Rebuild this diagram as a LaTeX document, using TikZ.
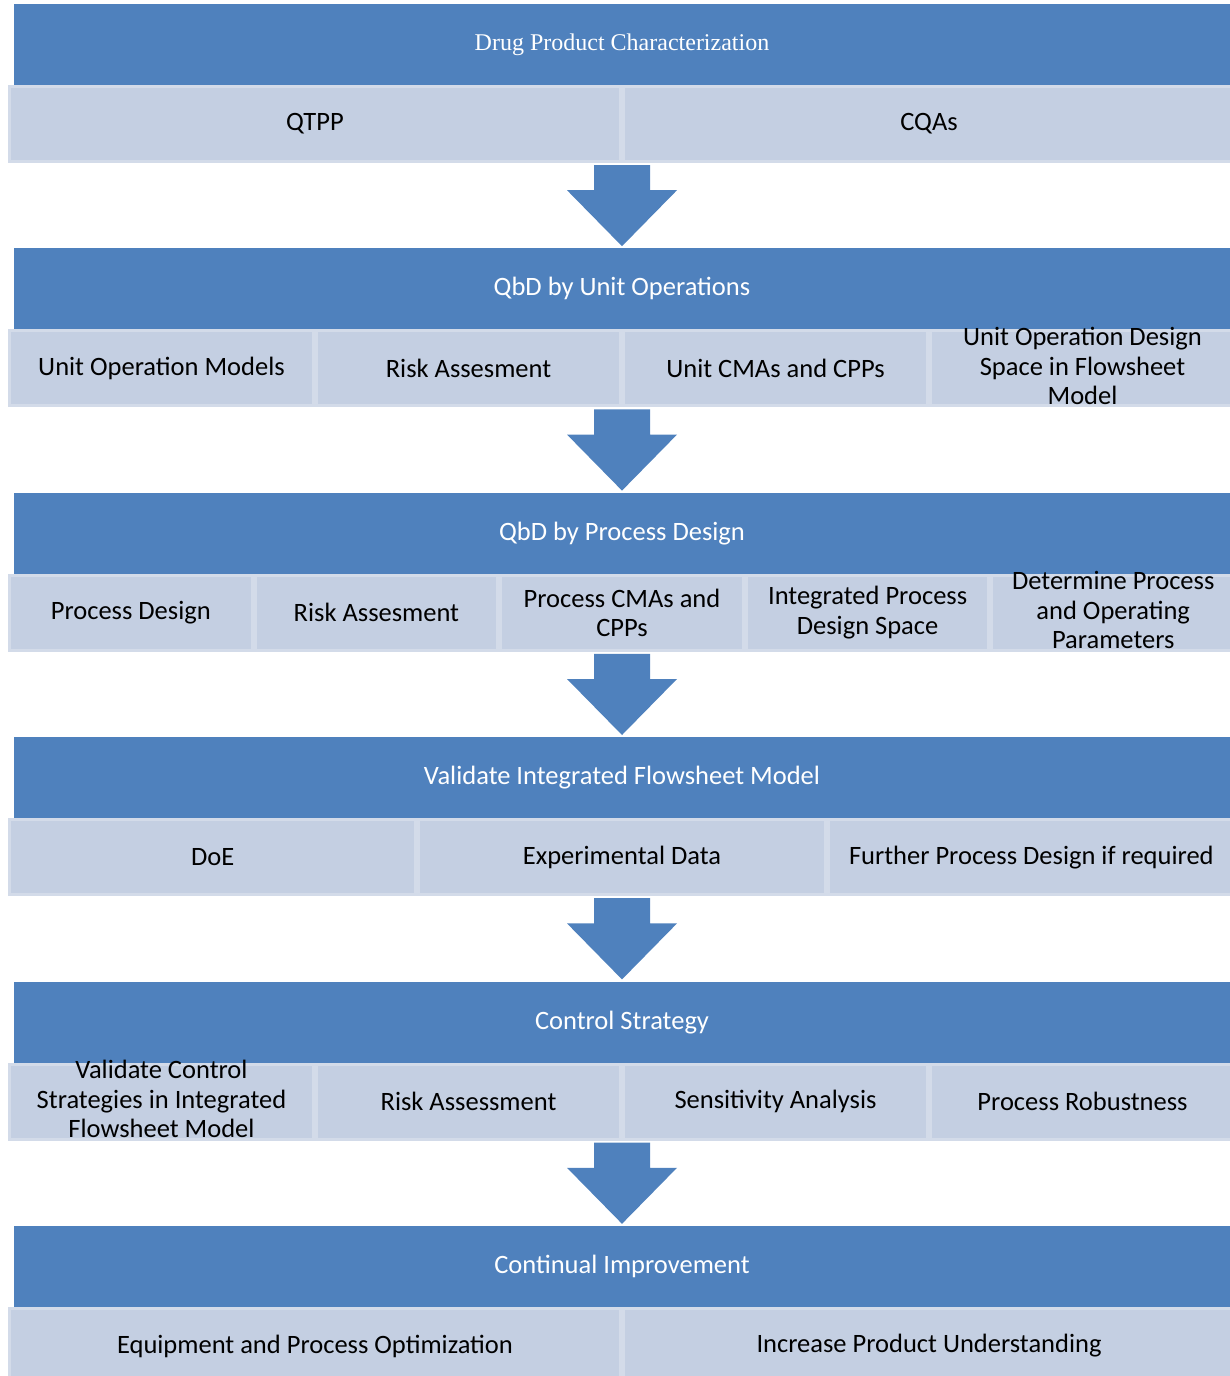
\documentclass[tikz,border=0pt]{standalone}
\usepackage{fontspec}
\setmainfont{Carlito}
\newfontfamily\timesfont{Liberation Serif}
\usetikzlibrary{calc}

\definecolor{hdblue}{HTML}{4F81BD}
\definecolor{subfill}{HTML}{C4CFE2}
\definecolor{subedge}{HTML}{D3DBE9}

% block arrow from the bottom of one row to the next header
\newcommand{\flowarrow}[2]{%
 \fill[hdblue] ($(#1)+(-28,2)$) -- ($(#1)+(28,2)$) -- ($(#2)+(28,-58)$) -- ($(#2)+(55,-58)$)
  -- ($(#2)+(0,-2)$) -- ($(#2)+(-55,-58)$) -- ($(#2)+(-28,-58)$) -- cycle;}
% three lines that may stick out of their box
\newcommand{\tallcell}[1]{\smash{\raisebox{-7pt}{\begin{tabular}{@{}c@{}}#1\end{tabular}}}}

\begin{document}
\begin{tikzpicture}[x=1pt,y=-1pt,
 hdr/.style={fill=hdblue, minimum width=1216pt, minimum height=81pt, inner sep=0pt,
  text=white, font=\fontsize{26.5}{29.5}\selectfont},
 subbox/.style={fill=subfill, draw=subedge, line width=3pt, minimum height=75pt,
  minimum width=#1, inner sep=0pt, align=center, font=\fontsize{26.5}{29.5}\selectfont}]
%\draw[help lines] (0,0) grid[step=100] (1230,1376);
\useasboundingbox (0,0) rectangle (1230,1376);
\clip (0,0) rectangle (1230,1376);

\begin{scope}
 \node[hdr, font=\timesfont\fontsize{24}{28}\selectfont] (hdChar) at (622,44.5) {Drug Product Characterization};
 \node[subbox=611pt] (qtpp) at (315,124) {QTPP};
 \node[subbox=611pt] (cqas) at (929,124) {CQAs};
\end{scope}

\begin{scope}[yshift=-244.4pt]
 \node[hdr] (hdUnit) at (622,44.5) {QbD by Unit Operations};
 \node[subbox=304pt] (uoModel) at (161.5,124) {Unit Operation Models};
 \node[subbox=304pt] (uoRisk) at (468.5,124) {Risk Assesment};
 \node[subbox=304pt] (uoCma) at (775.5,124) {Unit CMAs and CPPs};
 \node[subbox=304pt] (uoSpace) at (1082.5,124) {\tallcell{Unit Operation Design\\Space in Flowsheet\\Model}};
\end{scope}

\begin{scope}[yshift=-488.8pt]
 \node[hdr] (hdProc) at (622,44.5) {QbD by Process Design};
 \node[subbox=242.6pt] (pdDesign) at (130.8,124) {Process Design};
 \node[subbox=242.6pt] (pdRisk) at (376.4,124) {Risk Assesment};
 \node[subbox=242.6pt] (pdCma) at (622,124) {Process CMAs and\\CPPs};
 \node[subbox=242.6pt] (pdSpace) at (867.6,124) {Integrated Process\\Design Space};
 \node[subbox=242.6pt] (pdParam) at (1113.2,124) {\tallcell{Determine Process\\and Operating\\Parameters}};
\end{scope}

\begin{scope}[yshift=-733.2pt]
 \node[hdr] (hdValid) at (622,44.5) {Validate Integrated Flowsheet Model};
 \node[subbox=406.3pt] (vdDoe) at (212.7,124) {DoE};
 \node[subbox=406.3pt] (vdData) at (622,124) {Experimental Data};
 \node[subbox=406.3pt] (vdFurther) at (1031.3,124) {Further Process Design if required};
\end{scope}

\begin{scope}[yshift=-977.6pt]
 \node[hdr] (hdCtrl) at (622,44.5) {Control Strategy};
 \node[subbox=304pt] (csValid) at (161.5,124) {\tallcell{Validate Control\\Strategies in Integrated\\Flowsheet Model}};
 \node[subbox=304pt] (csRisk) at (468.5,124) {Risk Assessment};
 \node[subbox=304pt] (csSens) at (775.5,124) {Sensitivity Analysis};
 \node[subbox=304pt] (csRobust) at (1082.5,124) {Process Robustness};
\end{scope}

\begin{scope}[yshift=-1222pt]
 \node[hdr] (hdImpr) at (622,44.5) {Continual Improvement};
 \node[subbox=611pt] (ciOptim) at (315,124) {Equipment and Process Optimization};
 \node[subbox=611pt] (ciUnder) at (929,124) {Increase Product Understanding};
\end{scope}

% arrows between the rows
\coordinate (arA) at (hdUnit.north |- qtpp.south);
\coordinate (arB) at (hdProc.north |- uoRisk.south);
\coordinate (arC) at (hdValid.north |- pdCma.south);
\coordinate (arD) at (hdCtrl.north |- vdData.south);
\coordinate (arE) at (hdImpr.north |- csRisk.south);
\flowarrow{arA}{hdUnit.north}
\flowarrow{arB}{hdProc.north}
\flowarrow{arC}{hdValid.north}
\flowarrow{arD}{hdCtrl.north}
\flowarrow{arE}{hdImpr.north}

\end{tikzpicture}
\end{document}
